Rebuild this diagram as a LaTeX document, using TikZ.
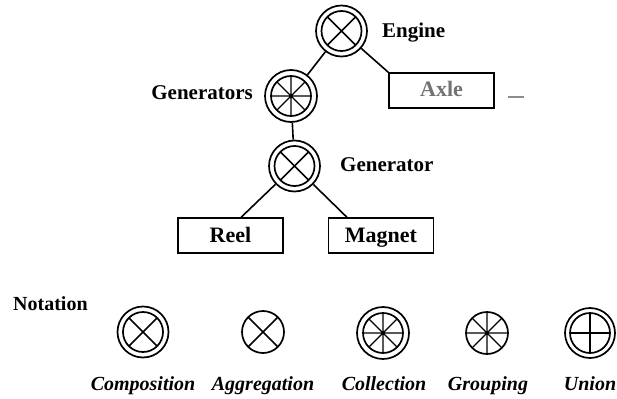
\documentclass[tikz,border=0pt]{standalone}
\usepackage{fontspec}
\setmainfont{Liberation Serif}
\usetikzlibrary{calc}

\tikzset{
  lw/.style={line width=1.7pt},
  label/.style={font=\fontsize{21}{21}\selectfont\bfseries, inner sep=0pt},
  caption/.style={font=\fontsize{20}{20}\selectfont\bfseries\itshape, inner sep=0pt, anchor=base},
  part/.style={draw, line width=1.5pt, inner sep=0pt, minimum width=105pt, minimum height=35pt,
    text height=16pt, text depth=3pt,
    font=\fontsize{22}{22}\selectfont\bfseries},
  % double ring with an X: composition
  composition/.style={circle, draw, lw, inner sep=0pt, minimum size=51pt,
    path picture={\coordinate (pc) at (path picture bounding box.center);
      \draw[lw] (pc) circle (20)
        (pc) +(45:20) -- +(225:20)
        (pc) +(135:20) -- +(315:20);}},
  % single ring with an X: aggregation
  aggregation/.style={circle, draw, lw, inner sep=0pt, minimum size=42pt,
    path picture={\coordinate (pc) at (path picture bounding box.center);
      \draw[lw] (pc) +(45:21) -- +(225:21)
        (pc) +(135:21) -- +(315:21);}},
  % double ring with eight spokes: collection
  collection/.style={circle, draw, lw, inner sep=0pt, minimum size=52pt,
    path picture={\coordinate (pc) at (path picture bounding box.center);
      \draw[lw] (pc) circle (20);
      \draw[line width=1.3pt] (pc) +(0:20) -- +(180:20)
        (pc) +(45:20) -- +(225:20)
        (pc) +(90:20) -- +(270:20)
        (pc) +(135:20) -- +(315:20);}},
  % single ring with eight spokes: grouping
  grouping/.style={circle, draw, lw, inner sep=0pt, minimum size=42pt,
    path picture={\coordinate (pc) at (path picture bounding box.center);
      \draw[line width=1.3pt] (pc) +(0:21) -- +(180:21)
        (pc) +(45:21) -- +(225:21)
        (pc) +(90:21) -- +(270:21)
        (pc) +(135:21) -- +(315:21);}},
  % double ring with a plus: union
  union/.style={circle, draw, lw, inner sep=0pt, minimum size=50pt,
    path picture={\coordinate (pc) at (path picture bounding box.center);
      \draw[lw] (pc) circle (20)
        (pc) +(0:20) -- +(180:20)
        (pc) +(90:20) -- +(270:20);}},
  link/.style={line width=1.6pt},
}

\begin{document}
\begin{tikzpicture}[x=1pt, y=-1pt]
\useasboundingbox[fill=white] (0,0) rectangle (617,398);

% structure tree
\node[composition] (engine) at (341.5,31) {};
\node[collection] (generators) at (291,96) {};
\node[composition] (generator) at (294.5,166) {};
\node[part, text=black!55] (axle) at (441.5,90.5) {Axle};
\node[part] (reel) at (230.5,235.5) {Reel};
\node[part] (magnet) at (381,235.5) {Magnet};

\node[label, anchor=base west] (engineL) at (382,38) {Engine};
\node[label, anchor=base east] (generatorsL) at (253,100) {Generators};
\node[label, anchor=base west] (generatorL) at (340,171) {Generator};

\coordinate (mark1) at (508,97);
\coordinate (mark2) at (524,97);
\draw[black!45, line width=1.2pt] (mark1) -- (mark2);

\draw[link] (engine) -- (generators);
\draw[link] (engine) -- (axle.north west);
\draw[link] (generators) -- (generator);
\draw[link] (generator) -- ($(reel.north west)!0.6!(reel.north east)$);
\draw[link] (generator) -- ($(magnet.north west)!0.18!(magnet.north east)$);

% legend
\node[label, anchor=base west, font=\fontsize{20}{20}\selectfont\bfseries] (notation) at (13,310) {Notation};

\node[composition] (sComp) at (143,332) {};
\node[aggregation] (sAgg) at (263,332) {};
\node[collection] (sColl) at (383,333) {};
\node[grouping] (sGrp) at (487,333) {};
\node[union] (sUnion) at (590,333) {};

\node[caption] (tComp) at (143,390) {Composition};
\node[caption] (tAgg) at (263,390) {Aggregation};
\node[caption] (tColl) at (384,390) {Collection};
\node[caption] (tGrp) at (488,390) {Grouping};
\node[caption] (tUnion) at (590,390) {Union};
\end{tikzpicture}
\end{document}
